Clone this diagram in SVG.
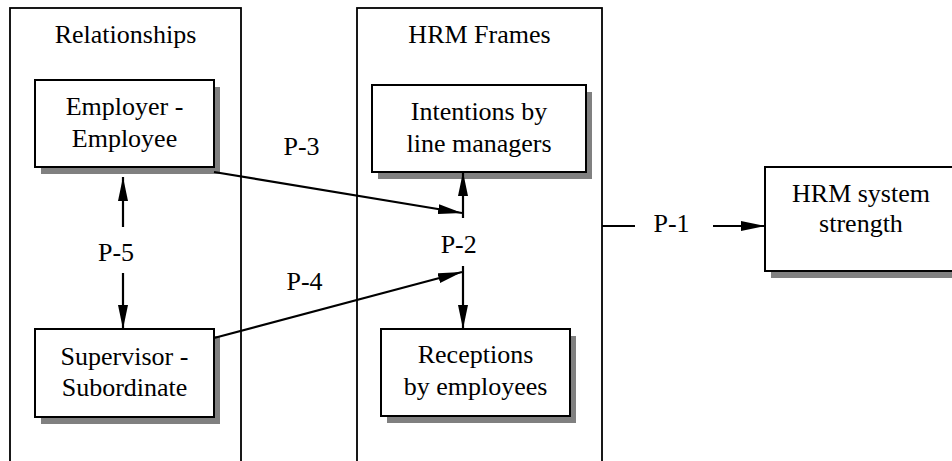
<svg xmlns="http://www.w3.org/2000/svg" width="952" height="461" viewBox="0 0 952 461">
  <defs>
    <style>
      .frame { fill: none; stroke: #000; stroke-width: 1.8; }
      .shadow { fill: #808080; stroke: none; }
      .box { fill: #fff; stroke: #000; stroke-width: 2; }
      .conn { fill: none; stroke: #000; stroke-width: 2.2; }
    </style>
    <marker id="ah" markerUnits="userSpaceOnUse" markerWidth="24" markerHeight="10" refX="24" refY="5" orient="auto">
      <path d="M0,0 L24,5 L0,10 z" fill="#000"/>
    </marker>
  </defs>
  <rect width="952" height="461" fill="#fff"/>

  <g font-family="'Liberation Serif', serif" font-size="26" text-anchor="middle" fill="#000">
  <g id="relationships">
    <rect class="frame" x="10" y="8" width="231" height="470"/>
    <text x="125.5" y="43">Relationships</text>
  </g>

  <g id="hrm-frames">
    <rect class="frame" x="357" y="8" width="245" height="470"/>
    <text x="479.5" y="43">HRM Frames</text>
  </g>

  <g id="employer-employee">
    <rect class="shadow" x="41" y="87" width="179" height="87"/>
    <rect class="box" x="35" y="80" width="179" height="87"/>
    <text x="124.5" y="115">Employer -</text>
    <text x="124.5" y="147">Employee</text>
  </g>

  <g id="supervisor-subordinate">
    <rect class="shadow" x="41" y="336" width="179" height="88"/>
    <rect class="box" x="35" y="329" width="179" height="88"/>
    <text x="124.5" y="365">Supervisor -</text>
    <text x="124.5" y="396">Subordinate</text>
  </g>

  <g id="intentions">
    <rect class="shadow" x="378" y="92" width="214" height="87"/>
    <rect class="box" x="372" y="85" width="214" height="87"/>
    <text x="479" y="120">Intentions by</text>
    <text x="479" y="152">line managers</text>
  </g>

  <g id="receptions">
    <rect class="shadow" x="387" y="336" width="189" height="87"/>
    <rect class="box" x="381" y="329" width="189" height="87"/>
    <text x="475.5" y="363">Receptions</text>
    <text x="475.5" y="395">by employees</text>
  </g>

  <g id="hrm-system-strength">
    <rect class="shadow" x="771" y="174" width="200" height="104"/>
    <rect class="box" x="765" y="167" width="200" height="104"/>
    <text x="861" y="202">HRM system</text>
    <text x="861" y="232">strength</text>
  </g>

  <g id="connectors">
    <line class="conn" x1="123" y1="227" x2="123" y2="177" marker-end="url(#ah)"/>
    <line class="conn" x1="123" y1="273" x2="123" y2="329" marker-end="url(#ah)"/>
    <line class="conn" x1="214" y1="172" x2="462" y2="213" marker-end="url(#ah)"/>
    <line class="conn" x1="214" y1="338" x2="462" y2="272" marker-end="url(#ah)"/>
    <line class="conn" x1="463" y1="218" x2="463" y2="172" marker-end="url(#ah)"/>
    <line class="conn" x1="463" y1="266" x2="463" y2="329" marker-end="url(#ah)"/>
    <line class="conn" x1="602" y1="226" x2="635" y2="226"/>
    <line class="conn" x1="713" y1="226" x2="765" y2="226" marker-end="url(#ah)"/>
  </g>

  <g id="labels">
    <text x="116" y="261">P-5</text>
    <text x="301.5" y="155">P-3</text>
    <text x="304.5" y="290">P-4</text>
    <text x="458.7" y="253">P-2</text>
    <text x="671.5" y="232">P-1</text>
  </g>
  </g>
</svg>
